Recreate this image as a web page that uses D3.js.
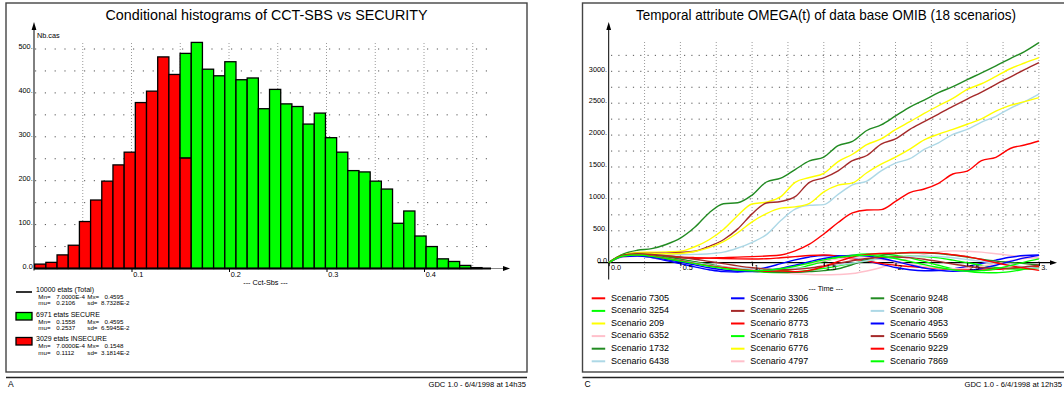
<!DOCTYPE html>
<html><head><meta charset="utf-8">
<script src="https://cdn.jsdelivr.net/npm/d3@7"></script>
<style>
html,body{margin:0;padding:0;background:#fff;}
svg{display:block;font-family:"Liberation Sans",Arial,Helvetica,sans-serif;}
</style></head><body>
<svg id="c" width="1064" height="394"></svg>
<script>
// ---------- LEFT: histogram data ----------
const histMin = 0.0007, histMax = 0.4595, histBins = 40;
const insecureCounts = [10,14,31,53,107,156,199,236,265,378,404,482,442,252,0,0,0,0,0,0,0,0,0,0,0,0,0,0,0,0,0,0,0,0,0,0,0,0,0,0];
const secureCounts   = [0,0,0,0,0,0,0,0,0,0,0,0,0,238,515,454,439,471,430,434,364,408,375,369,329,354,298,265,223,220,199,181,103,131,74,50,22,16,7,2];
const histYTicks = [0,100,200,300,400,500];
const histYLabels = ["0.0","100.","200.","300.","400.","500."];
const histXTicks = [0.1,0.2,0.3,0.4];
const histXLabels = ["0.1","0.2","0.3","0.4"];
const histYGrid = [50,100,150,200,250,300,350,400,450,500];
const histXGrid = [0.05,0.1,0.15,0.2,0.25,0.3,0.35,0.4,0.45];
const legTitles = ["10000 etats (Total)","6971 etats SECURE","3029 etats INSECURE"];
const legMn = ["7.0000E-4","0.1558","7.0000E-4"];
const legMx = ["0.4595","0.4595","0.1548"];
const legMu = ["0.2106","0.2537","0.1112"];
const legSd = ["8.7328E-2","6.5945E-2","3.1814E-2"];

// ---------- RIGHT: temporal data ----------
const times = [0,0.1,0.2,0.3,0.4,0.5,0.6,0.7,0.8,0.9,1.0,1.1,1.2,1.3,1.4,1.5,1.6,1.7,1.8,1.9,2.0,2.1,2.2,2.3,2.4,2.5,2.6,2.7,2.8,2.9,3.0];
const scenarioNames = ["Scenario 7305","Scenario 3254","Scenario 209","Scenario 6352","Scenario 1732","Scenario 6438",
  "Scenario 3306","Scenario 2265","Scenario 8773","Scenario 7818","Scenario 6776","Scenario 4797",
  "Scenario 9248","Scenario 308","Scenario 4953","Scenario 5569","Scenario 9229","Scenario 7869"];
const scenarioColors = ["#ff0000","#00ff00","#ffff00","#ffc0cb","#228b22","#add8e6","#0000ff","#a52a2a",
  "#ff0000","#00ff00","#ffff00","#ffc0cb","#228b22","#add8e6","#0000ff","#a52a2a","#ff0000","#00ff00"];
const s7305 = [0,110,130,110,90,75,70,72,80,88,95,105,120,185,290,450,630,780,825,832,960,1100,1155,1245,1390,1435,1600,1652,1790,1845,1908];
const s3254 = [0,115,130,115,85,50,10,-30,-70,-105,-128,-140,-130,-95,-40,20,75,118,138,135,115,75,20,-40,-95,-135,-155,-158,-140,-100,-52];
const s209  = [0,125,160,165,170,180,250,360,520,740,920,950,1035,1260,1335,1400,1585,1700,1850,1940,2085,2210,2340,2460,2575,2715,2805,2920,3040,3130,3214];
const s6352 = [0,95,110,95,70,40,5,-30,-60,-90,-115,-140,-160,-175,-185,-190,-185,-170,-130,-75,0,75,130,170,185,180,165,140,115,90,65];
const s1732 = [0,135,195,220,285,385,555,780,925,940,1060,1265,1325,1460,1595,1655,1835,1900,2072,2160,2300,2440,2550,2665,2760,2870,2975,3085,3200,3310,3450];
const s6438 = [0,105,140,125,120,125,130,140,165,230,320,440,660,840,900,910,1070,1220,1280,1440,1560,1630,1775,1880,2010,2090,2205,2295,2420,2525,2644];
const s3306 = [0,100,110,80,35,-15,-65,-110,-140,-145,-120,-75,-15,45,90,113,110,80,30,-25,-75,-110,-125,-122,-100,-60,-10,40,85,112,120];
const s2265 = [0,115,150,150,150,160,180,255,360,530,765,935,960,1035,1260,1330,1440,1600,1680,1860,1940,2090,2210,2330,2450,2565,2675,2795,2910,3025,3135];
const s8773 = [0,115,140,125,105,90,80,72,65,60,58,62,78,95,112,120,100,60,25,-10,-40,-60,-78,-92,-105,-115,-115,-105,-90,-75,-63];
const s7818 = [0,110,125,110,80,45,5,-35,-75,-110,-135,-150,-155,-145,-120,-88,-50,-10,30,65,90,100,95,75,40,0,-40,-75,-95,-100,-90];
const s6776 = [0,120,150,145,140,145,175,235,330,470,640,770,855,875,930,1110,1215,1250,1410,1545,1655,1780,1925,2015,2090,2170,2255,2375,2465,2525,2587];
const s4797 = [0,90,100,85,55,20,-15,-50,-80,-100,-110,-105,-85,-50,-10,30,60,75,70,50,15,-25,-60,-85,-95,-85,-55,-15,30,65,85];
const s9248 = [0,120,135,120,90,55,15,-25,-65,-100,-125,-140,-150,-150,-140,-125,-95,-30,50,110,145,155,157,145,120,90,55,25,5,-15,-37];
const s308  = [0,105,120,100,70,35,0,-35,-65,-85,-95,-98,-95,-88,-78,-63,-35,-5,30,60,82,98,104,98,78,50,20,-10,-37,-65,-89];
const s4953 = [0,95,105,85,50,10,-35,-80,-115,-135,-140,-125,-90,-40,15,65,100,115,105,70,20,-35,-85,-120,-135,-125,-90,-40,20,75,115];
const s5569 = [0,115,140,130,110,85,55,20,-15,-50,-80,-100,-110,-105,-85,-50,-10,30,65,85,90,80,55,20,-20,-55,-80,-90,-85,-65,-35];
const s9229 = [0,110,125,105,70,30,-10,-45,-75,-100,-120,-135,-130,-140,-120,-60,20,90,130,145,150,160,160,150,125,95,50,0,-45,-85,-120];
const s7869 = [0,105,120,100,65,25,-15,-55,-90,-115,-125,-120,-95,-55,-5,45,85,110,115,100,65,20,-30,-75,-110,-130,-125,-95,-45,10,60];
const scenarioSeries = [s7305,s3254,s209,s6352,s1732,s6438,s3306,s2265,s8773,s7818,s6776,s4797,s9248,s308,s4953,s5569,s9229,s7869];
const omYTicks = [0,500,1000,1500,2000,2500,3000];
const omYLabels = ["0.0","500.","1000.","1500.","2000.","2500.","3000."];
const omXTicks = [0,0.5,1,1.5,2,2.5,3];
const omXLabels = ["0.0","0.5","1.","1.5","2.","2.5","3."];
const omYGrid = [250,500,750,1000,1250,1500,1750,2000,2250,2500,2750,3000,3250];
const omXGrid = [0.25,0.5,0.75,1,1.25,1.5,1.75,2,2.25,2.5,2.75,3];

const svg = d3.select("#c");
const FS = 7.3;

// ---------- panels ----------
function panel(x0, x1, letter, stamp, stampRight) {
  svg.append("rect").attr("x", x0).attr("y", 3).attr("width", x1 - x0).attr("height", 369)
    .attr("fill", "none").attr("stroke", "#444").attr("stroke-width", 1.4);
  svg.append("line").attr("x1", x0).attr("x2", x1).attr("y1", 377.5).attr("y2", 377.5)
    .attr("stroke", "#222").attr("stroke-width", 1.4);
  svg.append("text").attr("x", x0 + 2).attr("y", 387).attr("font-size", 8.5).text(letter);
  svg.append("text").attr("x", stampRight).attr("y", 387).attr("font-size", 7.6).attr("text-anchor", "end").text(stamp);
}
panel(6, 527, "A", "GDC 1.0 - 6/4/1998 at 14h35", 526);
panel(582.5, 1077, "C", "GDC 1.0 - 6/4/1998 at 12h35", 1062);

// ---------- LEFT chart ----------
const xL = d3.scaleLinear().domain([0, 0.1]).range([34, 131.5]);
const yL = d3.scaleLinear().domain([0, 500]).range([268.5, 49]);
const gL = svg.append("g");

gL.append("text").attr("x", 266.5).attr("y", 20).attr("text-anchor", "middle")
  .attr("font-size", 14.2).attr("textLength", 322).attr("lengthAdjust", "spacingAndGlyphs")
  .text("Conditional histograms of CCT-SBS vs SECURITY");

// grid
gL.selectAll(".hg").data(histYGrid).join("line")
  .attr("x1", 35).attr("x2", 491).attr("y1", d => yL(d)).attr("y2", d => yL(d))
  .attr("stroke", "#555").attr("stroke-width", 1).attr("stroke-dasharray", "1.2,8.6");
gL.selectAll(".vg").data(histXGrid).join("line")
  .attr("x1", d => xL(d)).attr("x2", d => xL(d)).attr("y1", 43).attr("y2", yL(0))
  .attr("stroke", "#9a9a9a").attr("stroke-width", 1).attr("stroke-dasharray", "1,2");

// bars
const binW = (histMax - histMin) / histBins;
const bins = insecureCounts.map((v, i) => ({ x0: histMin + i * binW, x1: histMin + (i + 1) * binW, ins: v, sec: secureCounts[i] }));
gL.selectAll(".rb").data(bins.filter(b => b.ins > 0)).join("rect")
  .attr("x", d => xL(d.x0)).attr("width", d => xL(d.x1) - xL(d.x0))
  .attr("y", d => yL(d.ins)).attr("height", d => yL(0) - yL(d.ins))
  .attr("fill", "#ff0000").attr("stroke", "#000").attr("stroke-width", 1.3);
gL.selectAll(".gb").data(bins.filter(b => b.sec > 0)).join("rect")
  .attr("x", d => xL(d.x0)).attr("width", d => xL(d.x1) - xL(d.x0))
  .attr("y", d => yL(d.ins + d.sec)).attr("height", d => yL(d.ins) - yL(d.ins + d.sec))
  .attr("fill", "#00ff00").attr("stroke", "#000").attr("stroke-width", 1.3);

// axes lines
gL.append("line").attr("x1", 34).attr("x2", 34).attr("y1", yL(0) + 2).attr("y2", 28).attr("stroke", "#000").attr("stroke-width", 1);
gL.append("path").attr("d", "M31.6,30 L34,22 L36.4,30 Z").attr("fill", "#000");
gL.append("line").attr("x1", 34).attr("x2", 491).attr("y1", yL(0)).attr("y2", yL(0)).attr("stroke", "#000").attr("stroke-width", 2.2);
gL.append("line").attr("x1", 491).attr("x2", 504).attr("y1", yL(0)).attr("y2", yL(0)).attr("stroke", "#888").attr("stroke-width", 1);
gL.append("path").attr("d", `M503,${yL(0) - 2.4} L510,${yL(0)} L503,${yL(0) + 2.4} Z`).attr("fill", "#000");

const axXL = gL.append("g").attr("transform", `translate(0,${yL(0)})`)
  .call(d3.axisBottom(xL).tickValues(histXTicks).tickFormat((d, i) => histXLabels[i]).tickSize(3.5));
axXL.attr("font-size", null).attr("font-family", null);
axXL.select(".domain").remove();
axXL.selectAll("line").attr("stroke", "#000");
axXL.selectAll("text").attr("text-anchor", "start").attr("x", 1.2).attr("y", 3.2).attr("font-size", FS).attr("fill", "#000");

const axYL = gL.append("g").attr("transform", "translate(34,0)")
  .call(d3.axisLeft(yL).tickValues(histYTicks).tickFormat((d, i) => histYLabels[i]).tickSize(0).tickPadding(1.3));
axYL.attr("font-size", null).attr("font-family", null);
axYL.select(".domain").remove();
axYL.selectAll("text").attr("dy", 0).attr("y", -0.3).attr("font-size", FS).attr("fill", "#000");

gL.append("text").attr("x", 37).attr("y", 37.5).attr("font-size", FS).text("Nb.cas");
gL.append("text").attr("x", 265.5).attr("y", 285).attr("font-size", FS).attr("text-anchor", "middle").text("--- Cct-Sbs ---");

// legend
const legY = [289.5, 314.5, 338.8];
const lg = gL.append("g");
lg.append("line").attr("x1", 16).attr("x2", 32).attr("y1", 292).attr("y2", 292).attr("stroke", "#333").attr("stroke-width", 2);
lg.append("rect").attr("x", 16).attr("y", 312.5).attr("width", 16).attr("height", 7.5).attr("fill", "#00ff00").attr("stroke", "#000").attr("stroke-width", 1.3);
lg.append("rect").attr("x", 16).attr("y", 337.5).attr("width", 16).attr("height", 7.5).attr("fill", "#ff0000").attr("stroke", "#000").attr("stroke-width", 1.3);
const DFS = 6.2;
legTitles.forEach((t, i) => {
  const b = legY[i] + 2.4;
  lg.append("text").attr("x", 36).attr("y", b).attr("font-size", 7).text(t);
  const b1 = b + 6.8, b2 = b + 13.4;
  lg.append("text").attr("x", 38.3).attr("y", b1).attr("font-size", DFS).text("Mn=");
  lg.append("text").attr("x", 56.3).attr("y", b1).attr("font-size", DFS).text(legMn[i]);
  lg.append("text").attr("x", 87.3).attr("y", b1).attr("font-size", DFS).text("Mx=");
  lg.append("text").attr("x", 104.5).attr("y", b1).attr("font-size", DFS).text(legMx[i]);
  lg.append("text").attr("x", 38.3).attr("y", b2).attr("font-size", DFS).text("mu=");
  lg.append("text").attr("x", 56.3).attr("y", b2).attr("font-size", DFS).text(legMu[i]);
  lg.append("text").attr("x", 87.3).attr("y", b2).attr("font-size", DFS).text("sd=");
  lg.append("text").attr("x", 101).attr("y", b2).attr("font-size", DFS).text(legSd[i]);
});

// ---------- RIGHT chart ----------
const xR = d3.scaleLinear().domain([0, 3]).range([608.7, 1038.9]);
const yR = d3.scaleLinear().domain([0, 3000]).range([262.7, 71.3]);
const gR = svg.append("g");

gR.append("text").attr("x", 826).attr("y", 19.5).attr("text-anchor", "middle")
  .attr("font-size", 14.2).attr("textLength", 380).attr("lengthAdjust", "spacingAndGlyphs")
  .text("Temporal attribute OMEGA(t) of data base OMIB (18 scenarios)");

gR.selectAll(".hg").data(omYGrid).join("line")
  .attr("x1", 611).attr("x2", 1040).attr("y1", d => yR(d)).attr("y2", d => yR(d))
  .attr("stroke", "#555").attr("stroke-width", 1).attr("stroke-dasharray", "1.2,6.1");
gR.selectAll(".vg").data(omXGrid).join("line")
  .attr("x1", d => xR(d)).attr("x2", d => xR(d)).attr("y1", 42).attr("y2", 272)
  .attr("stroke", "#9a9a9a").attr("stroke-width", 1).attr("stroke-dasharray", "1,2");

// axes lines
gR.append("line").attr("x1", 608.7).attr("x2", 608.7).attr("y1", 279.5).attr("y2", 28).attr("stroke", "#000").attr("stroke-width", 1);
gR.append("path").attr("d", "M606.3,30 L608.7,22 L611.1,30 Z").attr("fill", "#000");
gR.append("line").attr("x1", 598).attr("x2", 1051).attr("y1", yR(0)).attr("y2", yR(0)).attr("stroke", "#000").attr("stroke-width", 1.2);
gR.append("path").attr("d", `M1050,${yR(0) - 2.4} L1057,${yR(0)} L1050,${yR(0) + 2.4} Z`).attr("fill", "#000");

// lines
const lineGen = d3.line().x((d, i) => xR(times[i])).y(d => yR(d)).curve(d3.curveMonotoneX);
gR.selectAll(".sc").data(scenarioSeries).join("path")
  .attr("d", d => lineGen(d)).attr("fill", "none")
  .attr("stroke", (d, i) => scenarioColors[i]).attr("stroke-width", 1.4);

const axXR = gR.append("g").attr("transform", `translate(0,${yR(0)})`)
  .call(d3.axisBottom(xR).tickValues(omXTicks).tickFormat((d, i) => omXLabels[i]).tickSize(3.5));
axXR.attr("font-size", null).attr("font-family", null);
axXR.select(".domain").remove();
axXR.selectAll("line").attr("stroke", "#000");
axXR.selectAll("text").attr("text-anchor", "start").attr("x", 1.8).attr("y", 1.8).attr("font-size", FS).attr("fill", "#000");

const axYR = gR.append("g").attr("transform", "translate(608.7,0)")
  .call(d3.axisLeft(yR).tickValues(omYTicks).tickFormat((d, i) => omYLabels[i]).tickSize(0).tickPadding(1.6));
axYR.attr("font-size", null).attr("font-family", null);
axYR.select(".domain").remove();
axYR.selectAll("text").attr("dy", 0).attr("y", -0.3).attr("font-size", FS).attr("fill", "#000");

gR.append("text").attr("x", 825.7).attr("y", 291).attr("font-size", FS).attr("text-anchor", "middle").text("--- Time ---");

// legend
const colLineX = [591.7, 731, 870.7];
const lgR = gR.append("g").attr("font-size", 9);
scenarioNames.forEach((n, i) => {
  const c = Math.floor(i / 6), r = i % 6;
  const cy = 297.3 + r * 12.6;
  lgR.append("line").attr("x1", colLineX[c]).attr("x2", colLineX[c] + 13.5).attr("y1", cy + 1).attr("y2", cy + 1)
    .attr("stroke", scenarioColors[i]).attr("stroke-width", 2);
  lgR.append("text").attr("x", colLineX[c] + 19.3).attr("y", cy + 3.3).text(n);
});
</script>
</body></html>
